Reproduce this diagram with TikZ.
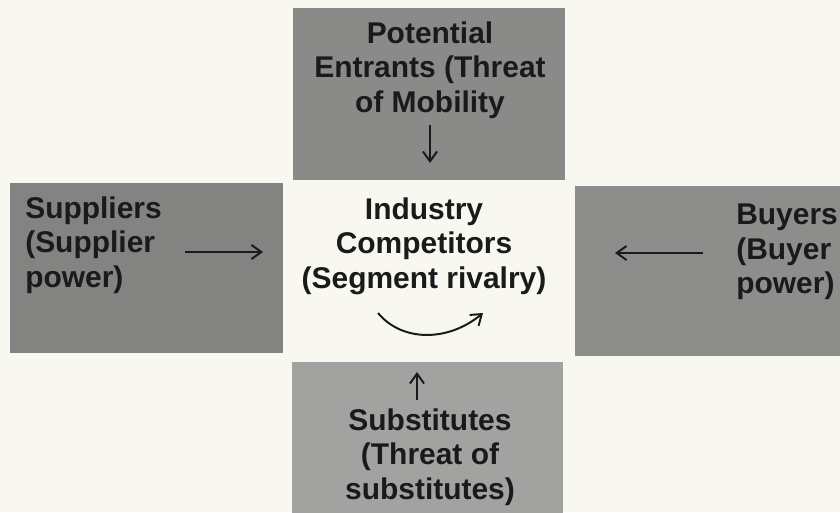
\documentclass[tikz,border=0pt]{standalone}
\usepackage{fontspec}
\setmainfont{Liberation Sans}
\usepackage{xcolor}
\usetikzlibrary{positioning,calc,arrows.meta}

\definecolor{paper}{HTML}{F9F8F0}
\definecolor{graytop}{HTML}{8A8A88}
\definecolor{grayleft}{HTML}{838381}
\definecolor{grayright}{HTML}{8D8D8B}
\definecolor{graybottom}{HTML}{A2A2A0}
\definecolor{ink}{HTML}{1A1A1A}

\begin{document}
\begin{tikzpicture}[x=0.025cm, y=-0.025cm,
  forcebox/.style={draw=none, inner sep=0pt},
  forcetext/.style={text=ink, inner sep=0pt, font=\bfseries\fontsize{21.3}{24.6}\selectfont},
  forcearrow/.style={draw=ink, line width=1.4pt, -{Straight Barb[length=7pt, width=10pt]}}]
  \useasboundingbox (0,0) rectangle (840,512);
  \clip (0,0) rectangle (840,512);
  \fill[paper] (0,0) rectangle (840,512);

  % Potential entrants (top)
  \node[forcebox, fill=graytop, minimum width=6.8cm, minimum height=4.3cm] (entrants) at (429,94) {};
  \node[forcetext, align=center] (entrantsText) at (430,70) {Potential\\Entrants (Threat\\of Mobility};
  \coordinate (entrantsTail) at (430,125);
  \coordinate (entrantsHead) at (430,163);
  \draw[forcearrow] (entrantsTail) -- (entrantsHead);

  % Suppliers (left)
  \node[forcebox, fill=grayleft, minimum width=6.825cm, minimum height=4.25cm] (suppliers) at (146.5,268) {};
  \node[forcetext, align=left, anchor=west] (suppliersText) at (25,245) {Suppliers\\(Supplier\\power)};
  \coordinate (suppliersTail) at (185,252);
  \coordinate (suppliersHead) at (263,252);
  \draw[forcearrow] (suppliersTail) -- (suppliersHead);

  % Buyers (right)
  \node[forcebox, fill=grayright, minimum width=6.875cm, minimum height=4.25cm] (buyers) at (712.5,271) {};
  \node[forcetext, align=left, anchor=west] (buyersText) at (736,252) {Buyers\\(Buyer\\power)};
  \coordinate (buyersTail) at (703,253);
  \coordinate (buyersHead) at (615,253);
  \draw[forcearrow] (buyersTail) -- (buyersHead);

  % Substitutes (bottom)
  \node[forcebox, fill=graybottom, minimum width=6.775cm, minimum height=3.95cm] (substitutes) at (427.5,441) {};
  \node[forcetext, align=center] (substitutesText) at (430,457) {Substitutes\\(Threat of\\substitutes)};
  \coordinate (substitutesTail) at (417,400);
  \coordinate (substitutesHead) at (417,372);
  \draw[forcearrow] (substitutesTail) -- (substitutesHead);

  % Industry competitors (centre)
  \node[forcetext, align=center] (rivalry) at (424,246) {Industry\\Competitors\\(Segment rivalry)};
  \coordinate (rivalryTail) at (378,313);
  \coordinate (rivalryHead) at (483,313);
  \draw[forcearrow] (rivalryTail) .. controls (402,342) and (448,342) .. (rivalryHead);
\end{tikzpicture}
\end{document}
